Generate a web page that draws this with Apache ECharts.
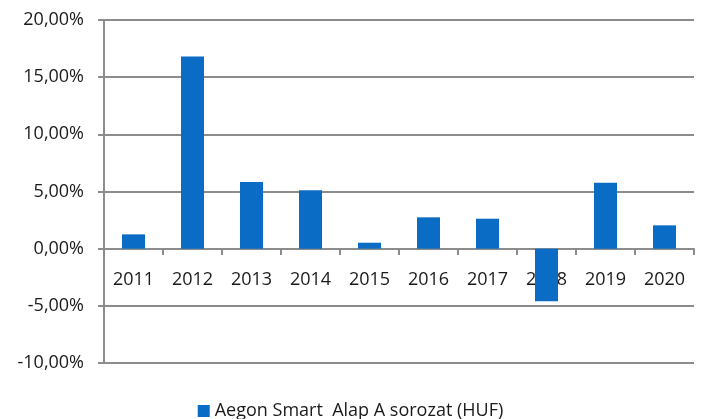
<!DOCTYPE html>
<html>
<head>
<meta charset="utf-8">
<script src="https://cdn.jsdelivr.net/npm/echarts@6/dist/echarts.min.js"></script>
<style>
  html,body{margin:0;padding:0;background:#fff;}
  #chart{width:701px;height:419px;}
</style>
</head>
<body>
<div id="chart"></div>
<script>
  // evek es hozamok (%)
  var years=['2011','2012','2013','2014','2015','2016','2017','2018','2019','2020'];
  var returns=[1.25,16.8,5.83,5.1,0.52,2.74,2.62,-4.6,5.77,2.04];
  var seriesName='Aegon Smart  Alap A sorozat (HUF)';

  function fmtPct(v){
    return v.toFixed(2).replace('.',',')+'%';
  }

  var chart=echarts.init(document.getElementById('chart'));
  var option={
    animation:false,
    textStyle:{fontFamily:'Open Sans'},
    grid:{left:104,right:7,top:20,bottom:56},
    legend:{
      top:397,
      left:'center',
      itemWidth:12,
      itemHeight:12,
      itemGap:6,
      textStyle:{fontSize:18,color:'#1a1a1a',fontFamily:'Open Sans'},
      data:[{name:seriesName,icon:'rect'}]
    },
    xAxis:{
      type:'category',
      data:years,
      offset:-114,  // tengely a 0-s vonalon
      axisLine:{onZero:false,lineStyle:{color:'#8c8c8c',width:2}},
      axisTick:{show:true,length:6,lineStyle:{color:'#8c8c8c',width:2}},
      axisLabel:{fontSize:18,color:'#1a1a1a',margin:22}
    },
    yAxis:{
      type:'value',
      min:-10,
      max:20,
      interval:5,
      axisLine:{show:true,lineStyle:{color:'#8c8c8c',width:2}},
      axisTick:{show:true,length:6,lineStyle:{color:'#8c8c8c',width:2}},
      splitLine:{lineStyle:{color:'#8c8c8c',width:2}},
      axisLabel:{fontSize:18,color:'#1a1a1a',margin:20,formatter:fmtPct}
    },
    series:[{
      name:seriesName,
      type:'bar',
      z:5,
      barWidth:23,
      itemStyle:{color:'#0a6cc4'},
      data:returns
    }]
  };
  chart.setOption(option);
</script>
</body>
</html>
